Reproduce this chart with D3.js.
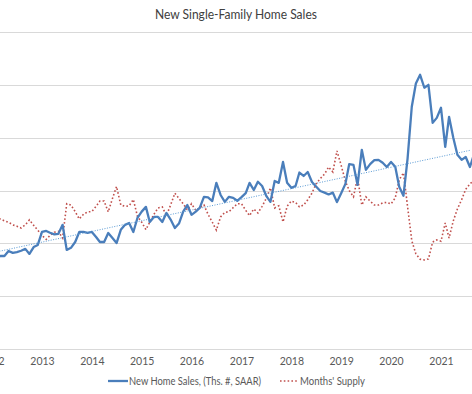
<!DOCTYPE html>
<html>
<head>
<meta charset="utf-8">
<script src="https://cdn.jsdelivr.net/npm/d3@7"></script>
<style>
  html, body { margin: 0; padding: 0; background: #fff; }
  svg { display: block; }
  text { font-family: Lato, "Open Sans", sans-serif; }
</style>
</head>
<body>
<svg id="chart" width="472" height="394"></svg>
<script>
// ---- Data (monthly, starting January 2012) ----
const startYear = 2012;
const sales = [
  340, 345, 352, 352, 371, 364, 367, 372, 379, 360, 386, 394,   // 2012
  443, 447, 440, 434, 436, 470, 375, 383, 405, 443, 443, 440,   // 2013
  443, 424, 405, 405, 439, 420, 401, 451, 470, 477, 443, 496,   // 2014
  520, 538, 481, 500, 500, 481, 515, 490, 458, 475, 520, 545,   // 2015
  508, 520, 534, 576, 574, 560, 629, 583, 557, 576, 572, 561,   // 2016
  575, 590, 629, 602, 633, 617, 580, 557, 636, 629, 708, 629,   // 2017
  610, 617, 668, 655, 670, 632, 615, 598, 592, 585, 592, 556,   // 2018
  590, 625, 700, 697, 621, 754, 678, 700, 715, 716, 705, 689,   // 2019
  708, 690, 614, 580, 720, 917, 1005, 1038, 989, 1000, 856, 875, // 2020
  913, 765, 879, 800, 735, 716, 727, 689, 740, 700              // 2021
];
const supply = [
  5.0, 5.0, 4.92, 4.85, 4.8, 4.7, 4.65, 4.58, 4.7, 4.89, 4.68, 4.5,   // 2012
  4.3, 4.15, 4.3, 4.42, 4.45, 4.2, 5.5, 5.45, 5.2, 4.92, 5.1, 5.19,   // 2013
  5.2, 5.4, 5.6, 5.6, 5.19, 5.7, 6.15, 5.45, 5.4, 5.42, 5.66, 5.02,   // 2014
  4.8, 4.52, 4.8, 5.1, 5.34, 5.38, 5.05, 5.45, 5.9, 5.7, 5.5, 5.27,   // 2015
  5.5, 5.25, 5.35, 5.45, 5.1, 4.8, 4.5, 5.0, 5.17, 5.2, 5.35, 5.5,    // 2016
  5.5, 5.25, 5.05, 5.3, 5.15, 5.4, 5.7, 6.1, 5.34, 5.42, 4.81, 5.4,   // 2017
  5.6, 5.55, 5.38, 5.45, 5.65, 5.9, 6.25, 6.45, 6.62, 6.89, 6.7, 7.5, // 2018
  6.95, 6.35, 6.0, 5.76, 6.5, 5.45, 5.76, 5.6, 5.45, 5.45, 5.53, 5.55,// 2019
  5.49, 5.72, 6.4, 6.67, 5.4, 4.1, 3.6, 3.4, 3.37, 3.41, 4.05, 4.13,  // 2020
  4.08, 4.77, 4.2, 4.85, 5.3, 5.65, 6.05, 6.25, 6.4, 6.5              // 2021
];
// Linear trendline of sales (as drawn in the source chart), values at Jan 2012 and Aug 2021
const trendDates = ["2012-01-01", "2021-08-01"];
const trendValues = [364, 752];
const yearTicks = [2012, 2013, 2014, 2015, 2016, 2017, 2018, 2019, 2020, 2021];
const salesTicks = [0, 200, 400, 600, 800, 1000, 1200];
const title = "New Single-Family Home Sales";
const seriesNames = ["New Home Sales, (Ths. #, SAAR)", "Months' Supply"];

// ---- Layout ----
const W = 472, H = 394;
const plotTop = 32, plotBottom = 349;
const svg = d3.select("#chart");

const monthDate = i => new Date(Date.UTC(startYear, i, 1));
const x = d3.scaleUtc()
  .domain([new Date(Date.UTC(2013, 0, 1)), new Date(Date.UTC(2021, 0, 1))])
  .range([42, 441]);
const yL = d3.scaleLinear().domain([0, 1200]).range([plotBottom, plotTop]);
const yR = d3.scaleLinear().domain([0, 12]).range([plotBottom, plotTop]);

// Title
svg.append("text")
  .attr("x", 236).attr("y", 18.5)
  .attr("text-anchor", "middle")
  .attr("font-size", 12.5)
  .attr("fill", "#404040")
  .attr("textLength", 162)
  .attr("lengthAdjust", "spacingAndGlyphs")
  .text(title);

// Gridlines
svg.append("g").selectAll("line")
  .data(salesTicks)
  .join("line")
  .attr("x1", 0).attr("x2", W)
  .attr("y1", d => Math.round(yL(d)) + 0.5)
  .attr("y2", d => Math.round(yL(d)) + 0.5)
  .attr("stroke", "#d9d9d9")
  .attr("stroke-width", 1);

// X axis labels
const xAxis = d3.axisBottom(x)
  .tickValues(yearTicks.map(y => new Date(Date.UTC(y, 0, 1))))
  .tickFormat(d3.utcFormat("%Y"))
  .tickSize(0)
  .tickPadding(9);
const gx = svg.append("g").attr("transform", `translate(0,${plotBottom})`).call(xAxis);
gx.select(".domain").remove();
gx.selectAll("text").attr("fill", "#595959").attr("font-size", 10.5)
  .style("font-family", "Lato, 'Open Sans', sans-serif");

// Clip
svg.append("clipPath").attr("id", "clip")
  .append("rect").attr("x", 0).attr("y", 0).attr("width", W).attr("height", H);
const plot = svg.append("g").attr("clip-path", "url(#clip)");

// Months' supply (dotted red)
const lineR = d3.line().x((d, i) => x(monthDate(i))).y(d => yR(d));
plot.append("path")
  .datum(supply)
  .attr("d", lineR)
  .attr("fill", "none")
  .attr("stroke", "#c0504d")
  .attr("stroke-width", 1.6)
  .attr("stroke-dasharray", "1.6,2.2");

// Sales line (blue)
const lineL = d3.line().x((d, i) => x(monthDate(i))).y(d => yL(d));
plot.append("path")
  .datum(sales)
  .attr("d", lineL)
  .attr("fill", "none")
  .attr("stroke", "#4a7ebb")
  .attr("stroke-width", 2.3)
  .attr("stroke-linejoin", "round");

// Linear trendline for sales
const parse = d3.utcParse("%Y-%m-%d");
const trend = trendDates.map((d, i) => ({ date: parse(d), v: trendValues[i] }));
plot.append("path")
  .datum(trend)
  .attr("d", d3.line().x(d => x(d.date)).y(d => yL(d.v)))
  .attr("fill", "none")
  .attr("stroke", "#5b9bd5")
  .attr("stroke-width", 1)
  .attr("stroke-dasharray", "1,1.5");

// Legend
const lg = svg.append("g");
lg.append("line").attr("x1", 108).attr("x2", 128).attr("y1", 381).attr("y2", 381)
  .attr("stroke", "#4a7ebb").attr("stroke-width", 2.3);
lg.append("text").attr("x", 129).attr("y", 385).attr("font-size", 10.5).attr("fill", "#595959")
  .attr("textLength", 132).attr("lengthAdjust", "spacingAndGlyphs")
  .text(seriesNames[0]);
lg.append("line").attr("x1", 280).attr("x2", 298).attr("y1", 381).attr("y2", 381)
  .attr("stroke", "#c0504d").attr("stroke-width", 1.6).attr("stroke-dasharray", "1.6,2.2");
lg.append("text").attr("x", 300).attr("y", 385).attr("font-size", 10.5).attr("fill", "#595959")
  .attr("textLength", 65).attr("lengthAdjust", "spacingAndGlyphs")
  .text(seriesNames[1]);
</script>
</body>
</html>
